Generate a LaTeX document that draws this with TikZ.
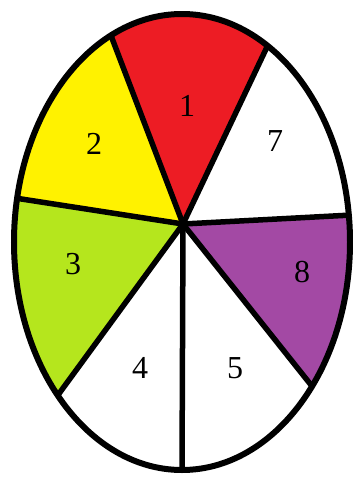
\documentclass[tikz,border=0pt]{standalone}
\usepackage{fontspec}
\setmainfont{Liberation Serif}
\usetikzlibrary{calc}
\begin{document}
\begin{tikzpicture}[x=1pt,y=-1pt,
  lbl/.style={font=\fontsize{32}{32}\selectfont, inner sep=0pt},
  spoke/.style={line width=5.5pt},
  rim/.style={line width=6pt}]
\definecolor{pred}{RGB}{237,28,36}
\definecolor{pyel}{RGB}{255,242,0}
\definecolor{pgrn}{RGB}{181,230,29}
\definecolor{ppur}{RGB}{163,73,164}
\useasboundingbox (0,0) rectangle (353,477);
\fill[white] (0,0) rectangle (353,477);
\coordinate (C) at (183,224);
\coordinate (A) at ($(C)!2!(110,33)$);
\coordinate (B) at ($(C)!2!(267,47)$);
\coordinate (R) at ($(C)!2!(352,215)$);
\coordinate (BR) at ($(C)!2!(315,390)$);
\coordinate (Bt) at ($(C)!2!(182,472)$);
\coordinate (BL) at ($(C)!2!(58,395)$);
\coordinate (L) at ($(C)!2!(15,198)$);
\begin{scope}
  \clip (182,242) ellipse [x radius=168, y radius=228];
  \fill[pred] (C) -- (A) -- (B) -- cycle;
  \fill[ppur] (C) -- (R) -- (BR) -- cycle;
  \fill[pgrn] (C) -- (BL) -- (L) -- cycle;
  \fill[pyel] (C) -- (L) -- (A) -- cycle;
  \draw[spoke] (C) -- (A);
  \draw[spoke] (C) -- (B);
  \draw[spoke] (C) -- (R);
  \draw[spoke] (C) -- (BR);
  \draw[spoke] (C) -- (Bt);
  \draw[spoke] (C) -- (BL);
  \draw[spoke] (C) -- (L);
\end{scope}
\draw[rim] (182,242) ellipse [x radius=168, y radius=228];
\node[lbl] (n1) at (187,106) {1};
\node[lbl] (n2) at (94,144) {2};
\node[lbl] (n7) at (275,141) {7};
\node[lbl] (n3) at (73,264) {3};
\node[lbl] (n8) at (302,272) {8};
\node[lbl] (n4) at (140,368) {4};
\node[lbl] (n5) at (235,368) {5};
\end{tikzpicture}
\end{document}
